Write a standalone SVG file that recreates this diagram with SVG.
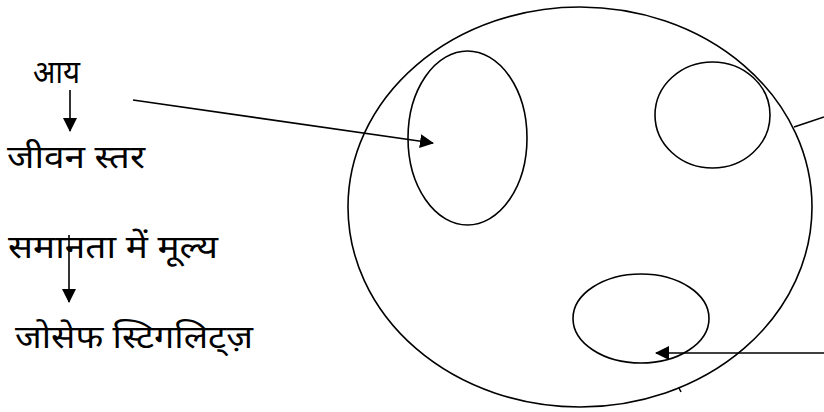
<svg xmlns="http://www.w3.org/2000/svg" width="824" height="412" viewBox="0 0 824 412">
<style>
.ln{fill:none;stroke:#000;stroke-width:1.6}
.lbl{font-family:"Noto Sans","Noto Sans Devanagari","Lohit Devanagari",sans-serif;font-size:32px;fill:#000}
</style>
<defs>
<marker id="ahb" markerWidth="14" markerHeight="14" refX="13" refY="7" orient="auto" markerUnits="userSpaceOnUse" viewBox="0 0 14 14">
<path d="M0,0 L14,7 L0,14 Z" fill="#000"/>
</marker>
</defs>
<rect width="824" height="412" fill="#fff"/>
<g id="outer"><ellipse class="ln" cx="580" cy="207" rx="232" ry="200"/></g>
<g id="left-set"><ellipse class="ln" cx="467.5" cy="138" rx="59.5" ry="87"/></g>
<g id="right-set"><ellipse class="ln" cx="712.5" cy="115" rx="57.5" ry="53"/></g>
<g id="bottom-set"><ellipse class="ln" cx="641" cy="318.5" rx="68" ry="44.5"/></g>
<g id="label-income">
<text class="lbl" x="33" y="83" textLength="47" lengthAdjust="spacingAndGlyphs">आय</text>
<text class="lbl" x="7" y="168" textLength="138" lengthAdjust="spacingAndGlyphs">जीवन स्तर</text>
</g>
<g id="label-value">
<text class="lbl" x="8" y="258" textLength="210" lengthAdjust="spacingAndGlyphs">समानता में मूल्य</text>
<text class="lbl" x="15" y="348" textLength="238" lengthAdjust="spacingAndGlyphs">जोसेफ स्टिगलिट्ज़</text>
</g>
<g id="connectors">
<line class="ln" x1="70" y1="90" x2="70" y2="131" marker-end="url(#ahb)"/>
<line class="ln" x1="69" y1="235" x2="69" y2="302" marker-end="url(#ahb)"/>
<line class="ln" x1="133" y1="100" x2="433" y2="143" marker-end="url(#ahb)"/>
<line class="ln" x1="794" y1="127" x2="824" y2="117"/>
<line class="ln" x1="824" y1="353" x2="656" y2="353" marker-end="url(#ahb)"/>
<path class="ln" d="M679,388 l2,4" stroke-width="1.2"/>
</g>
</svg>
